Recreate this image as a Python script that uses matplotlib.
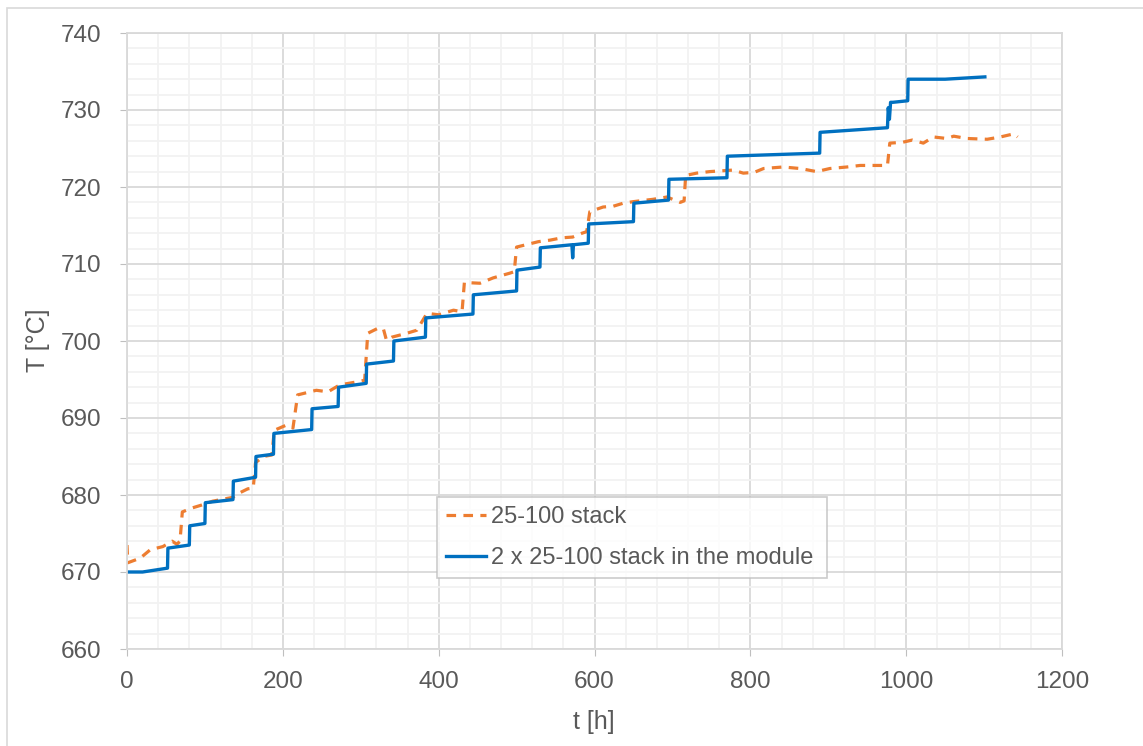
import matplotlib
matplotlib.use("Agg")
import matplotlib.pyplot as plt
from matplotlib.ticker import MultipleLocator
from matplotlib.patches import Rectangle
from matplotlib import font_manager

# ---------------- data ----------------
t_stack = [0, 1, 17, 30, 46, 58, 64, 68, 71, 83, 96, 110, 136, 145, 155, 162, 165, 175,
           186, 189, 205, 213, 219, 243, 258, 273, 290, 305, 309, 321, 329, 333, 340,
           359, 372, 385, 400, 419, 430, 433, 453, 470, 491, 497, 500, 528, 543, 558,
           572, 584, 590, 594, 611, 624, 637, 650, 675, 693, 710, 715, 717, 731, 748,
           778, 791, 805, 817, 842, 864, 885, 902, 924, 941, 976, 979, 995, 1008, 1022,
           1035, 1052, 1061, 1078, 1104, 1121, 1138, 1143]
T_stack = [673.5, 671.2, 671.8, 672.9, 673.3, 674.0, 673.6, 674.0, 677.8, 678.3, 678.7,
           679.2, 679.7, 680.3, 680.8, 680.9, 684.2, 685.0, 685.2, 688.4, 689.1, 688.7,
           693.0, 693.6, 693.4, 694.3, 694.6, 694.9, 701.0, 701.6, 701.6, 700.1, 700.5,
           701.0, 701.4, 703.6, 703.4, 704.0, 703.8, 707.6, 707.5, 708.2, 708.8, 709.0,
           712.2, 712.9, 713.1, 713.4, 713.5, 714.0, 714.2, 716.8, 717.4, 717.5, 717.9,
           718.1, 718.4, 718.7, 718.0, 718.2, 721.5, 721.8, 722.0, 722.2, 721.8, 721.9,
           722.4, 722.6, 722.4, 722.0, 722.4, 722.6, 722.8, 722.8, 725.7, 725.8, 726.1,
           725.7, 726.5, 726.3, 726.6, 726.3, 726.2, 726.5, 726.9, 726.5]

t_module = [0, 20, 52, 52.5, 80, 80.5, 100, 100.5, 136, 136.5, 165, 165.5, 188, 188.5,
            237, 237.5, 271, 271.5, 307, 307.5, 342, 342.5, 383, 383.5, 444, 444.5, 500,
            500.5, 530, 530.5, 571, 572, 573, 592, 592.5, 650, 650.5, 695, 695.5, 770,
            770.5, 889, 889.5, 976, 977, 978.5, 980, 983, 1002, 1002.5, 1050, 1101]
T_module = [670.0, 670.0, 670.5, 673.1, 673.5, 676.0, 676.3, 679.0, 679.4, 681.8, 682.3,
            685.0, 685.3, 688.0, 688.5, 691.2, 691.5, 694.0, 694.5, 697.0, 697.4, 700.0,
            700.5, 703.0, 703.5, 706.0, 706.5, 709.2, 709.6, 712.1, 712.5, 710.8, 712.5,
            712.7, 715.2, 715.5, 717.9, 718.3, 721.0, 721.2, 724.0, 724.4, 727.1, 727.7,
            730.3, 728.8, 731.0, 731.0, 731.2, 734.0, 734.0, 734.3]

labels = ["25-100 stack", "2 x 25-100 stack in the module"]
x_label = "t [h]"
y_label = "T [°C]"

# ---------------- style ----------------
names = {f.name for f in font_manager.fontManager.ttflist}
fam = ["Liberation Sans Narrow", "Liberation Sans", "DejaVu Sans"]
fam = [f for f in fam if f in names] + ["DejaVu Sans"]
plt.rcParams['font.family'] = fam
txt = "#595959"

fig = plt.figure(figsize=(11.43, 7.46), dpi=100)
fig.patches.append(Rectangle((7 / 1143, -0.01), 1.2, 1 - 8 / 746 + 0.01,
                             transform=fig.transFigure, fill=False,
                             edgecolor="#d9d9d9", linewidth=1.2))
ax = fig.add_axes([127 / 1143, 1 - 649 / 746, 935 / 1143, 616 / 746])

ax.plot(t_stack, T_stack, color="#ED7D31", linewidth=2.3, linestyle=(0, (3.0, 2.3)),
        label=labels[0])
ax.plot(t_module, T_module, color="#0070C0", linewidth=2.4, label=labels[1])

ax.set_xlim(0, 1200)
ax.set_ylim(660, 740)
ax.xaxis.set_major_locator(MultipleLocator(200))
ax.xaxis.set_minor_locator(MultipleLocator(40))
ax.yaxis.set_major_locator(MultipleLocator(10))
ax.yaxis.set_minor_locator(MultipleLocator(2))
ax.grid(which="major", color="#d9d9d9", linewidth=1.3)
ax.grid(which="minor", color="#f2f2f2", linewidth=1.3)
ax.set_axisbelow(True)
for s in ax.spines.values():
    s.set_color("#d9d9d9")
    s.set_linewidth(1.3)
ax.tick_params(which="major", length=5, color="#bfbfbf", labelsize=17.5,
               labelcolor=txt)
ax.tick_params(axis="y", pad=13.5)
ax.tick_params(axis="x", pad=11)
ax.tick_params(which="minor", length=0)

ax.set_xlabel(x_label, fontsize=18, color=txt)
ax.set_ylabel(y_label, fontsize=18, color=txt)
ax.xaxis.set_label_coords((594 - 127) / 935, (649 - 722) / 616)
ax.yaxis.set_label_coords((38 - 127) / 935, (649 - 340) / 616)
ax.xaxis.label.set_va("center")
ax.yaxis.label.set_va("center")

leg = ax.legend(loc="lower left", bbox_to_anchor=((437 - 127) / 935, (649 - 578) / 616,
                                                  (827 - 437) / 935, (578 - 496) / 616),
                mode="expand", fontsize=17, frameon=True, fancybox=False,
                handlelength=1.7, handletextpad=0.2, borderpad=0.39, labelspacing=0.79,
                borderaxespad=0)
leg.get_frame().set_edgecolor("#bfbfbf")
leg.get_frame().set_linewidth(1.2)
for tx in leg.get_texts():
    tx.set_color(txt)

fig.savefig("out.png", dpi=100)
